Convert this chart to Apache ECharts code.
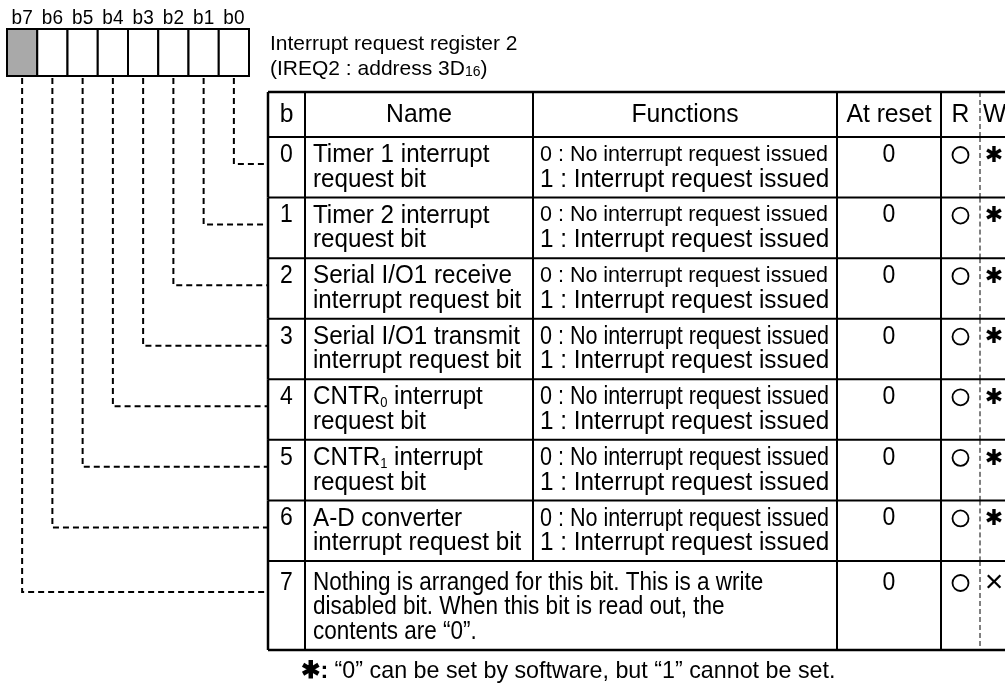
<!DOCTYPE html>
<html><head><meta charset="utf-8">
<script src="https://cdn.jsdelivr.net/npm/echarts@6/dist/echarts.min.js"></script>
<style>html,body{margin:0;padding:0;background:#fff}#c{width:1005px;height:684px}</style>
</head><body><div id="c"></div>
<script>
// ---------- data ----------
const bitLabels = ['b7', 'b6', 'b5', 'b4', 'b3', 'b2', 'b1', 'b0'];
const unusedBits = ['b7'];
const titleLines = ['Interrupt request register 2', '(IREQ2 : address 3D{sub|16})'];
const columnHeaders = ['b', 'Name', 'Functions', 'At reset', 'R', 'W'];
const bitNumbers = ['0', '1', '2', '3', '4', '5', '6', '7'];
const bitNames = [
  ['Timer 1 interrupt', 'request bit'],
  ['Timer 2 interrupt', 'request bit'],
  ['Serial I/O1 receive', 'interrupt request bit'],
  ['Serial I/O1 transmit', 'interrupt request bit'],
  ['CNTR{sub|0} interrupt', 'request bit'],
  ['CNTR{sub|1} interrupt', 'request bit'],
  ['A-D converter', 'interrupt request bit'],
  ['Nothing is arranged for this bit. This is a write', 'disabled bit. When this bit is read out, the', 'contents are \u201C0\u201D.']
];
const functionLines = [
  ['0 : No interrupt request issued', '1 : Interrupt request issued'],
  ['0 : No interrupt request issued', '1 : Interrupt request issued'],
  ['0 : No interrupt request issued', '1 : Interrupt request issued'],
  ['0 : No interrupt request issued', '1 : Interrupt request issued'],
  ['0 : No interrupt request issued', '1 : Interrupt request issued'],
  ['0 : No interrupt request issued', '1 : Interrupt request issued'],
  ['0 : No interrupt request issued', '1 : Interrupt request issued'],
  null
];
const resetValues = ['0', '0', '0', '0', '0', '0', '0', '0'];
const readMarks = ['O', 'O', 'O', 'O', 'O', 'O', 'O', 'O'];
const writeMarks = ['*', '*', '*', '*', '*', '*', '*', 'x'];
const footnote = '{b|\u2731:} \u201C0\u201D can be set by software, but \u201C1\u201D cannot be set.';

// ---------- layout (positions / styles) ----------
const FAM = '"Liberation Sans", Arial, Helvetica, sans-serif';
const L = {
  boxX0: 7, cellW: 30.25, boxY0: 29, boxY1: 76, labelY: 18,
  titleX: 270, titleY: [44, 69],
  cols: [268, 305, 533, 837, 941, 980, 1015],
  headTop: 92, headBottom: 137, rowH: 60.57, lastRowH: 89,
  nameX: 313, funcX: 540,
  footX: 301, footY: 671,
  smallFuncRows: [0, 1, 2]
};
function rowTop(r) { return L.headBottom + r * L.rowH; }
function rowBottom(r) { return r === 7 ? rowTop(7) + L.lastRowH : rowTop(r + 1); }
function lineY(r, k) { return r === 7 ? rowTop(r) + 22 + k * 24.5 : rowTop(r) + 18 + k * 24.5; }
function connectorY(r) { return lineY(r, 0) + 9; }

const subRich = { sub: { fontSize: 14, fontFamily: FAM, verticalAlign: 'bottom' } };

function T(api, x, y, text, size, align, extra, sx) {
  const p = api.coord([x, y]);
  return {
    type: 'text', x: p[0], y: p[1], scaleX: sx || 1, silent: true,
    style: Object.assign({
      text: text, fill: '#000', fontSize: size, fontFamily: FAM,
      textAlign: align || 'left', textVerticalAlign: 'middle',
      align: align || 'left', verticalAlign: 'middle', rich: subRich
    }, extra || {})
  };
}
function Ln(api, x1, y1, x2, y2, w, dash) {
  const a = api.coord([x1, y1]), b = api.coord([x2, y2]);
  return { type: 'line', silent: true, shape: { x1: a[0], y1: a[1], x2: b[0], y2: b[1] },
    style: { stroke: '#000', lineWidth: w || 2, lineDash: dash || null } };
}

function renderBit(params, api) {
  const i = params.dataIndex;
  const bit = 7 - i;
  const x0 = L.boxX0 + i * L.cellW;
  const cx = x0 + L.cellW / 2;
  const p0 = api.coord([x0, L.boxY0]), p1 = api.coord([x0 + L.cellW, L.boxY1]);
  const cy = connectorY(bit);
  const pts = [[cx, L.boxY1 + 2], [cx, cy], [L.cols[0], cy]].map(q => api.coord(q));
  return { type: 'group', children: [
    { type: 'rect', silent: true, shape: { x: p0[0], y: p0[1], width: p1[0] - p0[0], height: p1[1] - p0[1] },
      style: { fill: unusedBits.indexOf(bitLabels[i]) >= 0 ? '#a9a9a9' : '#fff', stroke: '#000', lineWidth: 2 } },
    T(api, cx, L.labelY, bitLabels[i], 20, 'center', null, 0.95),
    { type: 'polyline', silent: true, shape: { points: pts },
      style: { stroke: '#000', fill: null, lineWidth: 2, lineDash: [6, 4] } }
  ] };
}

function renderHeader(params, api) {
  const c = L.cols, yT = L.headTop, yB = L.headBottom, ym = (yT + yB) / 2;
  const ch = [
    T(api, L.titleX, L.titleY[0], titleLines[0], 21),
    T(api, L.titleX, L.titleY[1], titleLines[1], 21),
    Ln(api, c[0], yT, c[6], yT, 2.5),
    Ln(api, c[0], yB, c[6], yB, 2)
  ];
  for (let k = 0; k < 5; k++) ch.push(Ln(api, c[k], yT, c[k], yB, k === 0 ? 2.5 : 2));
  ch.push(Ln(api, c[5], yT, c[5], yB, 1, [5, 3]));
  for (let k = 0; k < 5; k++) {
    const cx = (c[k] + c[k + 1]) / 2;
    const t = T(api, cx, ym, columnHeaders[k], 26, 'center', null, 0.95);
    ch.push(t);
  }
  ch.push(T(api, c[5] + 3, ym, columnHeaders[5], 26, 'left', null, 0.95));
  ch.push(T(api, L.footX, L.footY, footnote, 24, 'left', {
    rich: { b: { fontSize: 24, fontFamily: FAM, fontWeight: 'bold' } }
  }, 0.97));
  return { type: 'group', children: ch };
}

function renderRow(params, api) {
  const r = params.dataIndex;
  const c = L.cols, y0 = rowTop(r), y1 = rowBottom(r);
  const last = r === 7;
  const ch = [Ln(api, c[0], y1, c[6], y1, last ? 2.5 : 2)];
  for (let k = 0; k < 5; k++) {
    if (last && k === 2) continue;
    ch.push(Ln(api, c[k], y0, c[k], y1, k === 0 ? 2.5 : 2));
  }
  ch.push(Ln(api, c[5], y0, c[5], y1, 1, [5, 3]));
  ch.push(T(api, (c[0] + c[1]) / 2, lineY(r, 0), bitNumbers[r], 25, 'center', null, 0.92));
  bitNames[r].forEach((s, k) => ch.push(T(api, L.nameX, lineY(r, k), s, last ? 25 : 26, 'left', null, last ? 0.9 : 0.93)));
  if (functionLines[r]) {
    if (L.smallFuncRows.indexOf(r) >= 0) ch.push(T(api, L.funcX, lineY(r, 0), functionLines[r][0], 21.5, 'left'));
    else ch.push(T(api, L.funcX, lineY(r, 0), functionLines[r][0], 26, 'left', null, 0.83));
    ch.push(T(api, L.funcX, lineY(r, 1), functionLines[r][1], 26, 'left', null, 0.935));
  }
  ch.push(T(api, (c[3] + c[4]) / 2, lineY(r, 0), resetValues[r], 25, 'center', null, 0.92));
  const rc = api.coord([(c[4] + c[5]) / 2, lineY(r, 0)]);
  if (readMarks[r] === 'O') ch.push({ type: 'circle', silent: true, shape: { cx: rc[0], cy: rc[1], r: 8 },
    style: { fill: null, stroke: '#000', lineWidth: 1.8 } });
  const wx = c[5] + 14;
  if (writeMarks[r] === '*') ch.push(T(api, wx, lineY(r, 0) + 1, '\u2731', 22, 'center', { fontFamily: '"DejaVu Sans", sans-serif' }));
  else ch.push(T(api, wx, lineY(r, 0), '\u00D7', 32, 'center'));
  return { type: 'group', children: ch };
}

const chart = echarts.init(document.getElementById('c'), null, { renderer: 'canvas', width: 1005, height: 684 });
chart.setOption({
  animation: false,
  backgroundColor: '#fff',
  grid: { left: 0, right: 0, top: 0, bottom: 0 },
  xAxis: { type: 'value', min: 0, max: 1005, show: false },
  yAxis: { type: 'value', min: 0, max: 684, inverse: true, show: false },
  series: [
    { type: 'custom', clip: false, silent: true, data: bitLabels.map((b, i) => [i, 0]), renderItem: renderBit },
    { type: 'custom', clip: false, silent: true, data: [[0, 0]], renderItem: renderHeader },
    { type: 'custom', clip: false, silent: true, data: bitNumbers.map((b, i) => [i, 0]), renderItem: renderRow }
  ]
});
</script></body></html>
